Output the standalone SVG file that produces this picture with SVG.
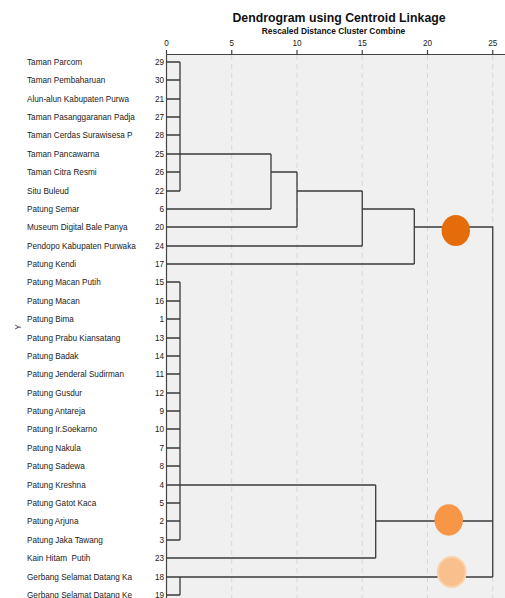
<svg xmlns="http://www.w3.org/2000/svg" width="505" height="598" viewBox="0 0 505 598">
<style>
.lbl{font-family:"Liberation Sans",Arial,sans-serif;font-size:8.2px;fill:#222}
.num{font-family:"Liberation Sans",Arial,sans-serif;font-size:8.2px;fill:#222;text-anchor:end}
.tick{font-family:"Liberation Sans",Arial,sans-serif;font-size:8.2px;fill:#222;text-anchor:middle}
.title{font-family:"Liberation Sans",Arial,sans-serif;font-weight:bold;fill:#111;text-anchor:middle}
.grid{stroke:#d6d6d6;stroke-width:1;stroke-dasharray:5,4;fill:none}
.ax{stroke:#444;stroke-width:1.2;fill:none}
.ln{stroke:#3a3a3a;stroke-width:1.3;fill:none}
</style>
<rect x="0" y="0" width="505" height="598" fill="#ffffff"/>
<rect x="166.5" y="54.5" width="338.5" height="543.5" fill="#f0f0f0"/>
<g id="grid">
<line class="grid" x1="231.75" y1="55" x2="231.75" y2="598"/>
<line class="grid" x1="297" y1="55" x2="297" y2="598"/>
<line class="grid" x1="362.25" y1="55" x2="362.25" y2="598"/>
<line class="grid" x1="427.5" y1="55" x2="427.5" y2="598"/>
<line class="grid" x1="492.75" y1="55" x2="492.75" y2="598"/>
</g>
<g id="titles">
<text class="title" x="339" y="21.5" font-size="12.3">Dendrogram using Centroid Linkage</text>
<text class="title" x="333.5" y="34" font-size="8.4">Rescaled Distance Cluster Combine</text>
</g>
<g id="axis">
<line class="ax" x1="166.5" y1="54.5" x2="505" y2="54.5"/>
<line class="ax" x1="166.5" y1="54.5" x2="166.5" y2="598"/>
<line class="ax" x1="166.5" y1="50" x2="166.5" y2="54.5"/>
<line class="ax" x1="231.75" y1="50" x2="231.75" y2="54.5"/>
<line class="ax" x1="297" y1="50" x2="297" y2="54.5"/>
<line class="ax" x1="362.25" y1="50" x2="362.25" y2="54.5"/>
<line class="ax" x1="427.5" y1="50" x2="427.5" y2="54.5"/>
<line class="ax" x1="492.75" y1="50" x2="492.75" y2="54.5"/>
<text class="tick" x="166.5" y="46.3">0</text>
<text class="tick" x="231.75" y="46.3">5</text>
<text class="tick" x="297" y="46.3">10</text>
<text class="tick" x="362.25" y="46.3">15</text>
<text class="tick" x="427.5" y="46.3">20</text>
<text class="tick" x="492.75" y="46.3">25</text>
<text class="lbl" transform="translate(21,327) rotate(-90)" text-anchor="middle">Y</text>
</g>
<g id="leaves">
<g id="leaf-29"><text class="lbl" x="27" y="65">Taman Parcom</text><text class="num" x="164" y="65">29</text></g>
<g id="leaf-30"><text class="lbl" x="27" y="83">Taman Pembaharuan</text><text class="num" x="164" y="83">30</text></g>
<g id="leaf-21"><text class="lbl" x="27" y="102">Alun-alun Kabupaten Purwa</text><text class="num" x="164" y="102">21</text></g>
<g id="leaf-27"><text class="lbl" x="27" y="120">Taman Pasanggaranan Padja</text><text class="num" x="164" y="120">27</text></g>
<g id="leaf-28"><text class="lbl" x="27" y="138">Taman Cerdas Surawisesa P</text><text class="num" x="164" y="138">28</text></g>
<g id="leaf-25"><text class="lbl" x="27" y="157">Taman Pancawarna</text><text class="num" x="164" y="157">25</text></g>
<g id="leaf-26"><text class="lbl" x="27" y="175">Taman Citra Resmi</text><text class="num" x="164" y="175">26</text></g>
<g id="leaf-22"><text class="lbl" x="27" y="194">Situ Buleud</text><text class="num" x="164" y="194">22</text></g>
<g id="leaf-6"><text class="lbl" x="27" y="212">Patung Semar</text><text class="num" x="164" y="212">6</text></g>
<g id="leaf-20"><text class="lbl" x="27" y="230">Museum Digital Bale Panya</text><text class="num" x="164" y="230">20</text></g>
<g id="leaf-24"><text class="lbl" x="27" y="249">Pendopo Kabupaten Purwaka</text><text class="num" x="164" y="249">24</text></g>
<g id="leaf-17"><text class="lbl" x="27" y="267">Patung Kendi</text><text class="num" x="164" y="267">17</text></g>
<g id="leaf-15"><text class="lbl" x="27" y="285">Patung Macan Putih</text><text class="num" x="164" y="285">15</text></g>
<g id="leaf-16"><text class="lbl" x="27" y="304">Patung Macan</text><text class="num" x="164" y="304">16</text></g>
<g id="leaf-1"><text class="lbl" x="27" y="322">Patung Bima</text><text class="num" x="164" y="322">1</text></g>
<g id="leaf-13"><text class="lbl" x="27" y="341">Patung Prabu Kiansatang</text><text class="num" x="164" y="341">13</text></g>
<g id="leaf-14"><text class="lbl" x="27" y="359">Patung Badak</text><text class="num" x="164" y="359">14</text></g>
<g id="leaf-11"><text class="lbl" x="27" y="377">Patung Jenderal Sudirman</text><text class="num" x="164" y="377">11</text></g>
<g id="leaf-12"><text class="lbl" x="27" y="396">Patung Gusdur</text><text class="num" x="164" y="396">12</text></g>
<g id="leaf-9"><text class="lbl" x="27" y="414">Patung Antareja</text><text class="num" x="164" y="414">9</text></g>
<g id="leaf-10"><text class="lbl" x="27" y="432">Patung Ir.Soekarno</text><text class="num" x="164" y="432">10</text></g>
<g id="leaf-7"><text class="lbl" x="27" y="451">Patung Nakula</text><text class="num" x="164" y="451">7</text></g>
<g id="leaf-8"><text class="lbl" x="27" y="469">Patung Sadewa</text><text class="num" x="164" y="469">8</text></g>
<g id="leaf-4"><text class="lbl" x="27" y="488">Patung Kreshna</text><text class="num" x="164" y="488">4</text></g>
<g id="leaf-5"><text class="lbl" x="27" y="506">Patung Gatot Kaca</text><text class="num" x="164" y="506">5</text></g>
<g id="leaf-2"><text class="lbl" x="27" y="524">Patung Arjuna</text><text class="num" x="164" y="524">2</text></g>
<g id="leaf-3"><text class="lbl" x="27" y="543">Patung Jaka Tawang</text><text class="num" x="164" y="543">3</text></g>
<g id="leaf-23"><text class="lbl" x="27" y="561" xml:space="preserve">Kain Hitam  Putih</text><text class="num" x="164" y="561">23</text></g>
<g id="leaf-18"><text class="lbl" x="27" y="580">Gerbang Selamat Datang Ka</text><text class="num" x="164" y="580">18</text></g>
<g id="leaf-19"><text class="lbl" x="27" y="598">Gerbang Selamat Datang Ke</text><text class="num" x="164" y="598">19</text></g>
</g>
<g id="connectors">
<path class="ln" d="M166.5 62H180M166.5 80H180M166.5 99H180M166.5 117H180M166.5 135H180M166.5 172H180M166.5 191H180M180 62V191"/>
<path class="ln" d="M166.5 154H271M166.5 209H271M271 154V209"/>
<path class="ln" d="M271 172H297M166.5 227H297M297 172V227"/>
<path class="ln" d="M297 191H362.25M166.5 246H362.25M362.25 191V246"/>
<path class="ln" d="M362.25 209H414.3M166.5 264H414.3M414.3 209V264"/>
<path class="ln" d="M414.3 227H492.75V577"/>
<path class="ln" d="M166.5 282H180M166.5 301H180M166.5 319H180M166.5 338H180M166.5 356H180M166.5 374H180M166.5 393H180M166.5 411H180M166.5 429H180M166.5 448H180M166.5 466H180M166.5 503H180M166.5 521H180M166.5 540H180M180 282V540"/>
<path class="ln" d="M166.5 485H375.7M166.5 558H375.7M375.7 485V558"/>
<path class="ln" d="M375.7 521H492.75"/>
<path class="ln" d="M166.5 577H492.75M166.5 595H180M180 577V595"/>
</g>
<g id="highlights">
<ellipse id="mark-1" cx="455.8" cy="230.5" rx="14.2" ry="15.5" fill="#e46c0a"/>
<ellipse id="mark-2" cx="448.7" cy="520" rx="14.3" ry="15.7" fill="#f79646"/>
<ellipse id="mark-3" cx="451.7" cy="572" rx="14" ry="15" fill="#f9c08e" stroke="#fbd2ab" stroke-width="2"/>
</g>
</svg>
